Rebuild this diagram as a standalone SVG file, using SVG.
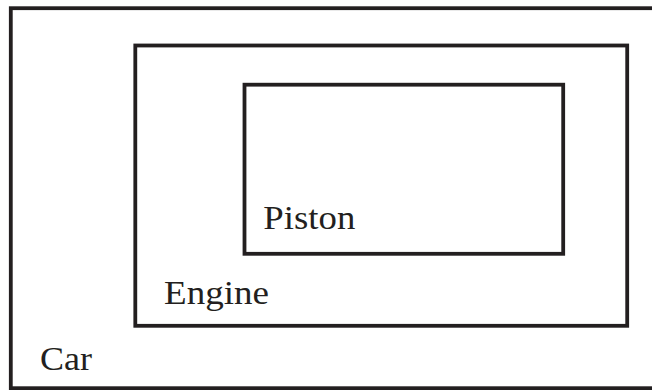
<svg xmlns="http://www.w3.org/2000/svg" width="652" height="390" viewBox="0 0 652 390">
<style>
.box{fill:none;stroke:#231f20;stroke-width:3.8}
.lbl{font-family:"Liberation Serif","Times New Roman",serif;font-size:33px;fill:#231f20}
</style>
<rect width="652" height="390" fill="#ffffff"/>
<g id="car">
<rect class="box" x="10.8" y="8.2" width="646" height="380"/>
<text class="lbl" x="40" y="369.5" textLength="52" lengthAdjust="spacingAndGlyphs">Car</text>
</g>
<g id="engine">
<rect class="box" x="135.3" y="45.5" width="491.9" height="280.3"/>
<text class="lbl" x="164" y="304.3" textLength="105" lengthAdjust="spacingAndGlyphs">Engine</text>
</g>
<g id="piston">
<rect class="box" x="244.5" y="84.7" width="318.7" height="169.1"/>
<text class="lbl" x="263.3" y="229" textLength="92" lengthAdjust="spacingAndGlyphs">Piston</text>
</g>
<g id="connectors"/>
</svg>
